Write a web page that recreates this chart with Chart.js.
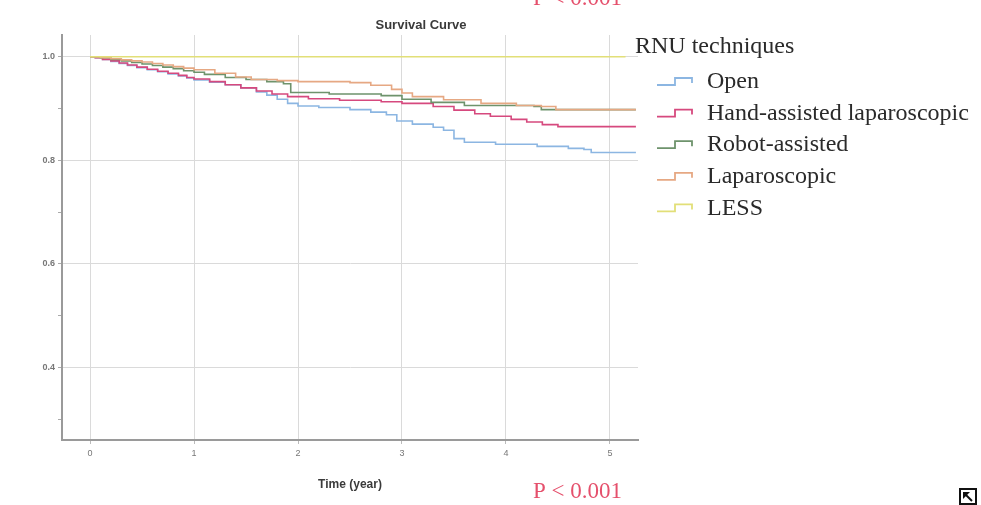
<!DOCTYPE html>
<html>
<head>
<meta charset="utf-8">
<script src="https://cdn.jsdelivr.net/npm/chart.js@4/dist/chart.umd.min.js"></script>
<style>
  html, body { margin: 0; padding: 0; background: #fff; }
  #wrap { position: relative; width: 981px; height: 505px; }
</style>
</head>
<body>
<div id="wrap"><canvas id="survivalChart"></canvas></div>
<script>
const seriesNames = ["Open", "Hand-assisted laparoscopic", "Robot-assisted", "Laparoscopic", "LESS"];
const seriesColors = ["#8cb6e2", "#d6497e", "#6e936c", "#e6a883", "#e2df78"];

const xTicks = [0, 1, 2, 3, 4, 5];
const yTicks = [0.3, 0.4, 0.5, 0.6, 0.7, 0.8, 0.9, 1.0];
const yLabelled = [0.4, 0.6, 0.8, 1.0];

const openTime = [0, 0.05, 0.12, 0.2, 0.28, 0.36, 0.45, 0.55, 0.65, 0.75, 0.85, 0.93, 1.0, 1.15, 1.3, 1.45, 1.6, 1.7, 1.8, 1.9, 2.0, 2.2, 2.5, 2.7, 2.85, 2.95, 3.1, 3.3, 3.4, 3.5, 3.6, 3.9, 4.3, 4.6, 4.75, 4.82, 5.25];
const openSurv = [1, 0.998, 0.995, 0.991, 0.987, 0.983, 0.979, 0.975, 0.971, 0.967, 0.963, 0.959, 0.955, 0.951, 0.946, 0.94, 0.932, 0.926, 0.918, 0.91, 0.905, 0.902, 0.898, 0.893, 0.888, 0.876, 0.87, 0.864, 0.858, 0.842, 0.835, 0.831, 0.827, 0.823, 0.821, 0.815, 0.815];

const handTime = [0, 0.05, 0.12, 0.2, 0.28, 0.36, 0.45, 0.55, 0.65, 0.75, 0.85, 0.93, 1.0, 1.15, 1.3, 1.45, 1.6, 1.75, 1.9, 2.1, 2.4, 2.8, 3.0, 3.3, 3.5, 3.7, 3.85, 4.05, 4.2, 4.35, 4.5, 5.25];
const handSurv = [1, 0.998, 0.995, 0.992, 0.988, 0.984, 0.98, 0.976, 0.972, 0.968, 0.964, 0.96, 0.957, 0.952, 0.946, 0.94, 0.934, 0.928, 0.923, 0.919, 0.916, 0.913, 0.91, 0.904, 0.897, 0.89, 0.885, 0.879, 0.874, 0.869, 0.865, 0.865];

const robotTime = [0, 0.1, 0.2, 0.3, 0.4, 0.5, 0.6, 0.7, 0.8, 0.9, 1.0, 1.1, 1.3, 1.5, 1.7, 1.86, 1.93, 2.3, 2.8, 3.0, 3.28, 3.6, 4.27, 4.34, 5.25];
const robotSurv = [1, 0.998, 0.995, 0.992, 0.989, 0.986, 0.983, 0.98, 0.977, 0.973, 0.97, 0.966, 0.96, 0.956, 0.952, 0.948, 0.931, 0.928, 0.925, 0.918, 0.912, 0.906, 0.904, 0.898, 0.898];

const lapTime = [0, 0.1, 0.2, 0.3, 0.4, 0.5, 0.6, 0.7, 0.8, 0.9, 1.0, 1.2, 1.4, 1.55, 1.8, 2.0, 2.5, 2.7, 2.9, 3.0, 3.1, 3.4, 3.76, 4.1, 4.34, 4.48, 5.25];
const lapSurv = [1, 0.998, 0.996, 0.994, 0.992, 0.99, 0.987, 0.984, 0.981, 0.978, 0.975, 0.968, 0.961, 0.956, 0.954, 0.952, 0.95, 0.945, 0.937, 0.93, 0.923, 0.917, 0.91, 0.906, 0.904, 0.898, 0.898];

const lessTime = [0, 5.15];
const lessSurv = [1, 1];

function toPoints(times, surv) {
  return times.map((t, i) => ({ x: t, y: surv[i] }));
}

const seriesData = [
  toPoints(openTime, openSurv),
  toPoints(handTime, handSurv),
  toPoints(robotTime, robotSurv),
  toPoints(lapTime, lapSurv),
  toPoints(lessTime, lessSurv),
];

// draw order: LESS first, Open last
const datasets = seriesNames
  .map((name, i) => ({
    label: name,
    data: seriesData[i],
    borderColor: seriesColors[i],
    borderWidth: 1.6,
    pointRadius: 0,
    stepped: true,
    fill: false,
  }))
  .reverse();

const textPlugin = {
  id: "extraText",
  afterDraw(chart) {
    const ctx = chart.ctx;
    ctx.save();

    ctx.fillStyle = "#3a3a3a";
    ctx.textAlign = "center";
    ctx.textBaseline = "middle";
    ctx.font = "bold 13px 'Liberation Sans', Arial, sans-serif";
    ctx.fillText("Survival Curve", 421, 25);
    ctx.font = "bold 12px 'Liberation Sans', Arial, sans-serif";
    ctx.fillText("Time (year)", 350, 485);

    ctx.fillStyle = "#e5506c";
    ctx.textAlign = "left";
    ctx.font = "23px 'Liberation Serif', 'Times New Roman', serif";
    ctx.fillText("P < 0.001", 533, 492);
    ctx.textBaseline = "alphabetic";
    ctx.fillText("P < 0.001", 533, 5);

    // legend
    ctx.fillStyle = "#2a2a2a";
    ctx.textBaseline = "middle";
    ctx.font = "24px 'Liberation Serif', 'Times New Roman', serif";
    ctx.fillText("RNU techniques", 635, 47);
    seriesNames.forEach((name, i) => {
      const cy = 82 + i * 31.6;
      ctx.strokeStyle = seriesColors[i];
      ctx.lineWidth = 1.8;
      ctx.beginPath();
      ctx.moveTo(657, cy + 3);
      ctx.lineTo(675, cy + 3);
      ctx.lineTo(675, cy - 4);
      ctx.lineTo(692, cy - 4);
      ctx.lineTo(692, cy + 1);
      ctx.stroke();
      ctx.fillStyle = "#2a2a2a";
      ctx.fillText(name, 707, cy);
    });

    // corner icon
    ctx.strokeStyle = "#111";
    ctx.lineWidth = 2;
    ctx.strokeRect(960, 489, 16, 15);
    ctx.beginPath();
    ctx.moveTo(972, 501);
    ctx.lineTo(964, 493);
    ctx.stroke();
    ctx.fillStyle = "#111";
    ctx.beginPath();
    ctx.moveTo(963, 492);
    ctx.lineTo(970, 492);
    ctx.lineTo(963, 499);
    ctx.closePath();
    ctx.fill();

    ctx.restore();
  },
};

new Chart(document.getElementById("survivalChart"), {
  type: "line",
  data: { datasets },
  options: {
    responsive: true,
    maintainAspectRatio: false,
    animation: false,
    layout: { padding: { left: 0, right: 343, top: 35, bottom: 0 } },
    plugins: {
      legend: { display: false },
      tooltip: { enabled: false },
    },
    scales: {
      x: {
        type: "linear",
        min: -0.27,
        max: 5.27,
        afterBuildTicks: (scale) => {
          scale.ticks = xTicks.map((v) => ({ value: v }));
        },
        afterFit: (scale) => {
          scale.height = 65;
        },
        grid: {
          color: "#dadada",
          lineWidth: 1,
          tickLength: 4,
          tickColor: "#bbb",
        },
        border: { color: "#9a9a9a", width: 2 },
        ticks: {
          color: "#777",
          font: { size: 9, family: "'Liberation Sans', Arial, sans-serif" },
          padding: 4,
          maxRotation: 0,
        },
      },
      y: {
        type: "linear",
        min: 0.26,
        max: 1.042,
        afterBuildTicks: (scale) => {
          scale.ticks = yTicks.map((v) => ({ value: v }));
        },
        afterFit: (scale) => {
          scale.width = 62;
        },
        grid: {
          color: (c) => (yLabelled.some((v) => Math.abs(v - c.tick.value) < 1e-6) ? "#dadada" : "rgba(0,0,0,0)"),
          lineWidth: 1,
          tickLength: 4,
          tickColor: "#aaa",
        },
        border: { color: "#9a9a9a", width: 2 },
        ticks: {
          color: "#777",
          font: { size: 9, weight: "bold", family: "'Liberation Sans', Arial, sans-serif" },
          padding: 3,
          callback: (v) => (yLabelled.some((t) => Math.abs(t - v) < 1e-6) ? v.toFixed(1) : ""),
        },
      },
    },
  },
  plugins: [textPlugin],
});
</script>
</body>
</html>
